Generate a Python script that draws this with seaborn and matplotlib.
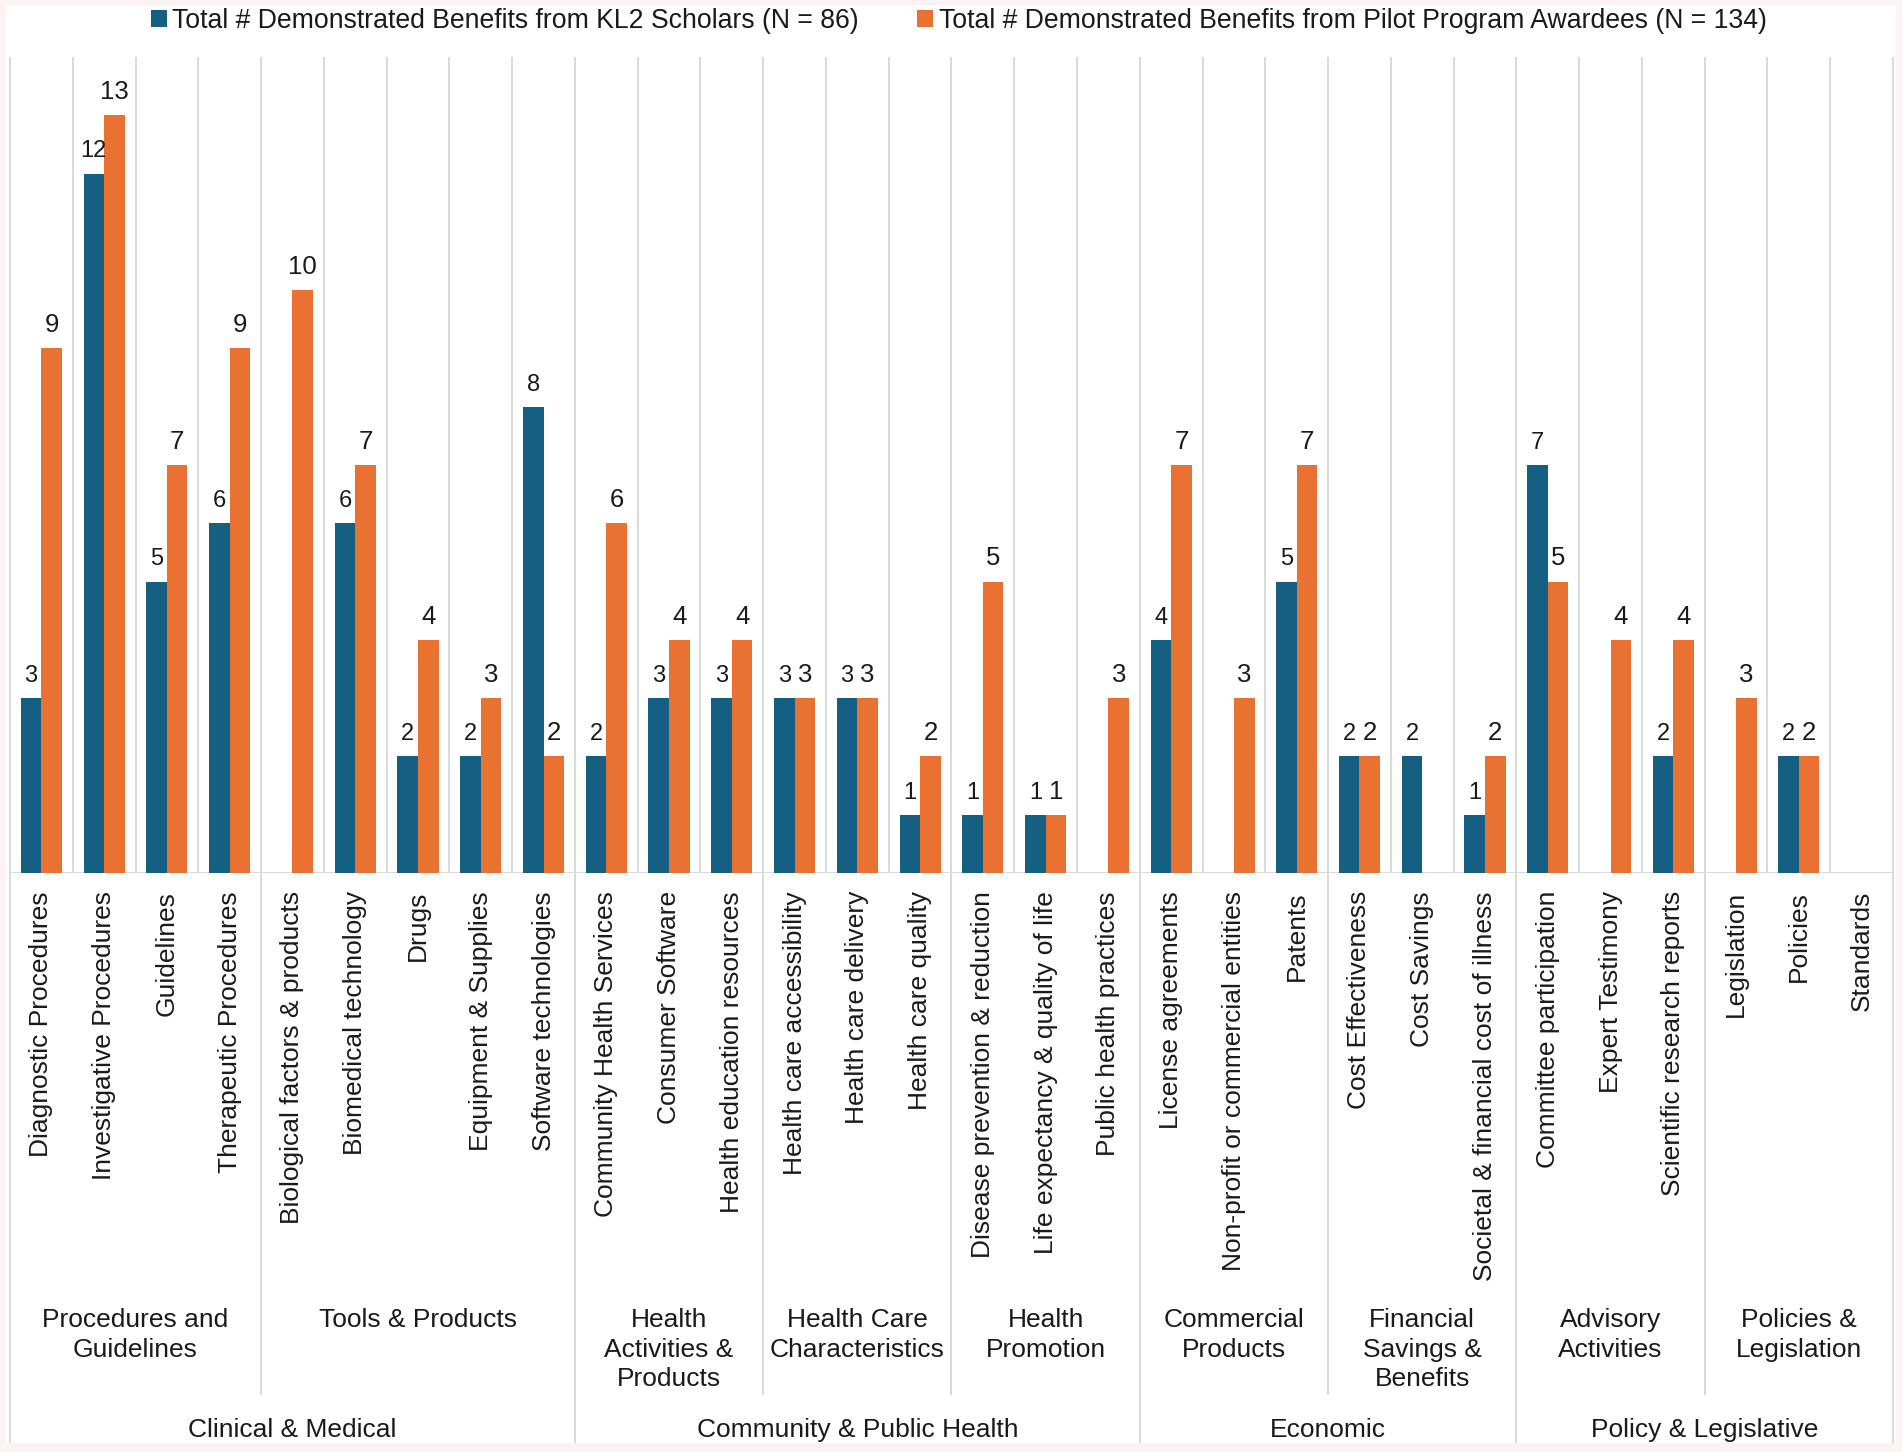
import matplotlib
matplotlib.use("Agg")
import matplotlib.pyplot as plt
import matplotlib.transforms as mtransforms
from matplotlib.patches import Rectangle
import numpy as np
import pandas as pd
import seaborn as sns

# ---------------- data ----------------
categories = [
    "Diagnostic Procedures", "Investigative Procedures", "Guidelines", "Therapeutic Procedures",
    "Biological factors & products", "Biomedical technology", "Drugs", "Equipment & Supplies",
    "Software technologies",
    "Community Health Services", "Consumer Software", "Health education resources",
    "Health care accessibility", "Health care delivery", "Health care quality",
    "Disease prevention & reduction", "Life expectancy & quality of life", "Public health practices",
    "License agreements", "Non-profit or commercial entities", "Patents",
    "Cost Effectiveness", "Cost Savings", "Societal & financial cost of illness",
    "Committee participation", "Expert Testimony", "Scientific research reports",
    "Legislation", "Policies", "Standards",
]
kl2_values = [3, 12, 5, 6, 0, 6, 2, 2, 8, 2, 3, 3, 3, 3, 1, 1, 1, 0, 4, 0, 5, 2, 2, 1, 7, 0, 2, 0, 2, 0]
pilot_values = [9, 13, 7, 9, 10, 7, 4, 3, 2, 6, 4, 4, 3, 3, 2, 5, 1, 3, 7, 3, 7, 2, 0, 2, 5, 4, 4, 3, 2, 0]

series_names = [
    "Total # Demonstrated Benefits from KL2 Scholars (N = 86)",
    "Total # Demonstrated Benefits from Pilot Program Awardees (N = 134)",
]

subgroups = [
    "Procedures and\nGuidelines", "Tools & Products", "Health\nActivities &\nProducts",
    "Health Care\nCharacteristics", "Health\nPromotion", "Commercial\nProducts",
    "Financial\nSavings &\nBenefits", "Advisory\nActivities", "Policies &\nLegislation",
]
subgroup_sizes = [4, 5, 3, 3, 3, 3, 3, 3, 3]

domains = ["Clinical & Medical", "Community & Public Health", "Economic", "Policy & Legislative"]
domain_subgroup_counts = [2, 3, 2, 2]

colors = ["#156082", "#E97132"]

# ---------------- style ----------------
sns.set_style("white")
plt.rcParams["font.family"] = ["Liberation Sans", "DejaVu Sans"]
text_color = "#1a1a1a"
grid_color = "#D9D9D9"

W, H = 1902, 1452
fig = plt.figure(figsize=(W / 100, H / 100), dpi=100)
fig.patch.set_facecolor("#FCF3F2")
fig.add_artist(Rectangle((6 / W, (H - 1443) / H), (1896 - 6) / W, (1443 - 5) / H,
                         transform=fig.transFigure, facecolor="white", edgecolor="none", zorder=0))

base_px, top_px, left_px, right_px = 873, 57, 10, 1893
ax = fig.add_axes([left_px / W, (H - base_px) / H, (right_px - left_px) / W, (base_px - top_px) / H])
ax.set_facecolor("none")

df = pd.DataFrame({
    "category": categories * 2,
    "value": kl2_values + pilot_values,
    "series": [series_names[0]] * len(categories) + [series_names[1]] * len(categories),
})

sns.barplot(data=df, x="category", y="value", hue="series", order=categories,
            hue_order=series_names, palette=colors, width=0.655, saturation=1,
            linewidth=0, ax=ax, legend=True, zorder=3)

handles, labels = ax.get_legend_handles_labels()
ax.get_legend().remove()

# value labels
for cont, vals, fs in zip(ax.containers, [kl2_values, pilot_values], [17, 18.5]):
    ax.bar_label(cont, labels=[str(v) if v > 0 else "" for v in vals], padding=8,
                 fontsize=fs, color=text_color)

ax.set_xlim(-0.5, len(categories) - 0.5)
ax.set_ylim(0, 14)
ax.set_yticks([])
ax.set_xlabel("")
ax.set_ylabel("")
for s in ax.spines.values():
    s.set_visible(False)
ax.tick_params(axis="x", length=0, pad=13, labelsize=19, labelcolor=text_color)
ax.set_xticks(range(len(categories)))
ax.set_xticklabels(categories, rotation=90, ha="center", va="top")
ax.axhline(0, color=grid_color, lw=1.4, zorder=2)

ax_h = base_px - top_px
def frac(ypix):
    return (base_px - ypix) / ax_h

trans = mtransforms.blended_transform_factory(ax.transData, ax.transAxes)

# boundaries
sub_edges = np.cumsum([0] + subgroup_sizes) - 0.5
dom_edge_idx = np.cumsum([0] + domain_subgroup_counts)
dom_edges = sub_edges[dom_edge_idx]
for k in range(len(categories) + 1):
    x = k - 0.5
    if np.any(np.isclose(dom_edges, x)):
        y0 = frac(1443)
    elif np.any(np.isclose(sub_edges, x)):
        y0 = frac(1395)
    else:
        y0 = 0
    ax.plot([x, x], [y0, 1], transform=trans, color=grid_color, lw=1.4,
            clip_on=False, zorder=1, solid_capstyle="butt")

# subgroup labels
for i, name in enumerate(subgroups):
    cx = (sub_edges[i] + sub_edges[i + 1]) / 2
    ax.text(cx, frac(1308), name, transform=trans, ha="center", va="top",
            fontsize=19, color=text_color, linespacing=1.3, multialignment="center")

# domain labels
for j, name in enumerate(domains):
    cx = (dom_edges[j] + dom_edges[j + 1]) / 2
    ax.text(cx, frac(1437), name, transform=trans, ha="center", va="baseline",
            fontsize=19, color=text_color)

fig.legend(handles, labels, loc="center", bbox_to_anchor=(0.504, 1 - 21 / H), ncol=2,
           frameon=False, fontsize=19.2, handlelength=0.6, handleheight=0.6,
           handletextpad=0.2, columnspacing=2.2, labelcolor=text_color)

fig.savefig("out.png", dpi=100, facecolor=fig.get_facecolor())
